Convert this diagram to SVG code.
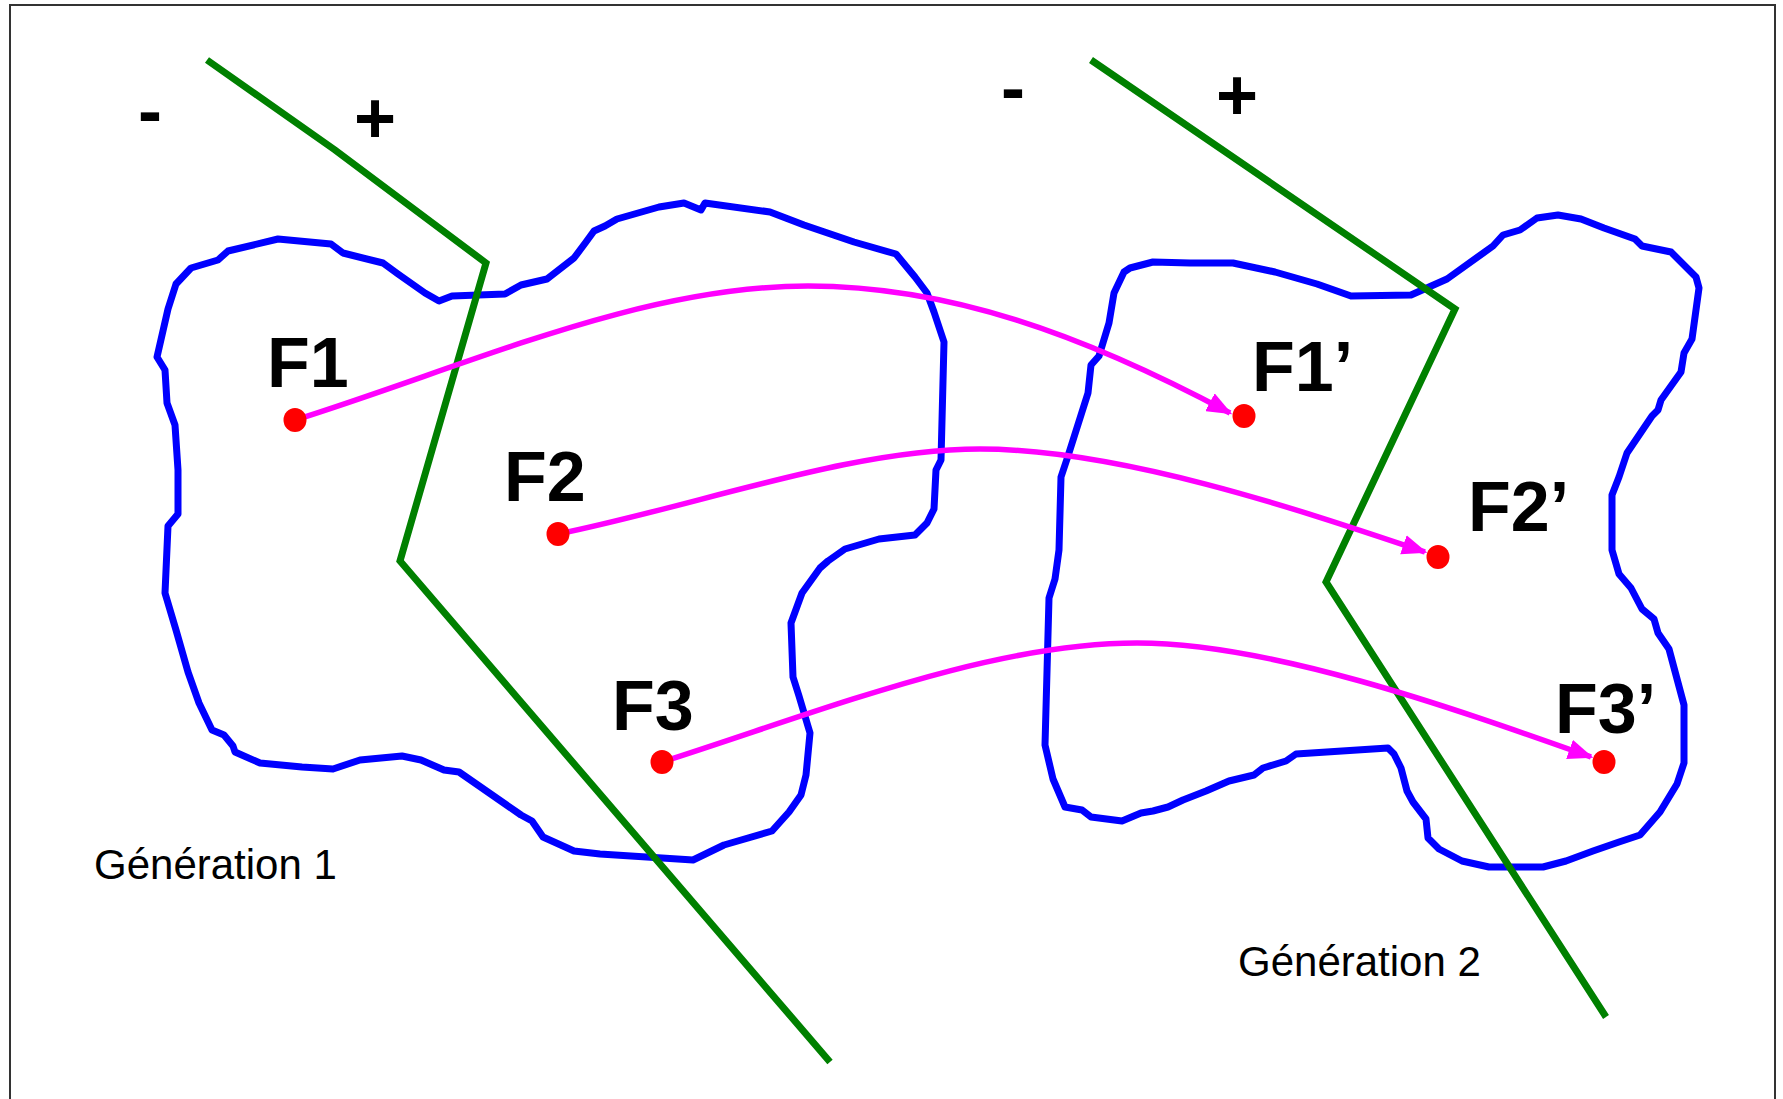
<svg xmlns="http://www.w3.org/2000/svg" width="1783" height="1099" viewBox="0 0 1783 1099">
<defs>
<style>
.blob{fill:none;stroke:#0000FF;stroke-width:7;stroke-linejoin:round;stroke-linecap:round}
.axis{fill:none;stroke:#008000;stroke-width:7;stroke-linejoin:miter}
.arrow{fill:none;stroke:#FF00FF;stroke-width:5.5;marker-end:url(#ah)}
.dot{fill:#FF0000}
.lbl{font-family:"Liberation Sans",Arial,sans-serif;font-weight:bold;font-size:70px;fill:#000}
.sign{font-family:"Liberation Sans",Arial,sans-serif;font-weight:bold;font-size:72px;fill:#000;text-anchor:middle}
.gen{font-family:"Liberation Sans",Arial,sans-serif;font-size:42px;fill:#000}
</style>
<marker id="ah" viewBox="0 0 10 8" markerWidth="4.6" markerHeight="3.7" refX="9" refY="4" orient="auto" markerUnits="strokeWidth">
<path d="M0,0 L10,4 L0,8 Z" fill="#FF00FF"/>
</marker>
</defs>
<rect x="0" y="0" width="1783" height="1099" fill="#fff"/>
<rect x="10" y="5" width="1765" height="1110" fill="none" stroke="#333" stroke-width="2"/>

<g id="generation1">
<path class="blob" d="M157,357 L168,309 L176,284 L191,268 L218,260 L228,251 L278,239 L331,244 L343,253 L383,263 L398,274 L425,293 L439,301 L452,296 L505,294 L521,285 L547,279 L574,258 L586,242 L594,231 L605,226 L617,219 L659,207 L684,203 L701,210 L705,203 L770,212 L804,225 L854,242 L896,254 L915,277 L927,293 L934,312 L944,342 L941,460 L936,470 L934,509 L927,523 L915,535 L879,539 L845,549 L828,561 L820,568 L802,593 L791,623 L793,677 L799,696 L810,733 L806,775 L801,795 L789,812 L772,831 L724,845 L693,860 L600,854 L574,851 L543,837 L532,821 L521,815 L459,772 L444,770 L421,760 L402,756 L360,760 L333,769 L302,767 L260,763 L235,752 L233,746 L224,735 L212,730 L199,703 L188,672 L176,630 L165,593 L168,526 L178,514 L178,470 L175,425 L167,403 L165,370 Z"/>
<polyline class="axis" points="207,60 335,150 486,263 400,561 830,1062"/>
<text class="sign" x="150" y="135">-</text>
<text class="sign" x="375" y="143">+</text>
<text class="gen" x="94" y="879">Génération 1</text>
</g>

<g id="generation2">
<path class="blob" d="M1124,272 L1130,268 L1153,262 L1190,263 L1233,263 L1275,272 L1317,284 L1351,296 L1411,295 L1447,279 L1493,246 L1503,235 L1520,230 L1537,218 L1558,215 L1581,219 L1604,228 L1635,239 L1642,246 L1671,252 L1696,277 L1699,288 L1692,339 L1684,353 L1681,372 L1661,400 L1658,410 L1652,416 L1627,453 L1619,477 L1612,495 L1612,550 L1619,574 L1631,588 L1642,609 L1654,619 L1658,633 L1669,649 L1684,705 L1684,763 L1677,784 L1660,812 L1640,835 L1619,842 L1593,851 L1566,861 L1543,867 L1489,867 L1462,861 L1439,849 L1428,838 L1426,819 L1413,802 L1407,791 L1401,768 L1394,754 L1388,748 L1296,754 L1286,761 L1263,768 L1254,775 L1229,781 L1206,791 L1183,800 L1168,807 L1153,811 L1141,813 L1122,821 L1091,817 L1082,810 L1065,807 L1053,779 L1045,745 L1049,598 L1055,579 L1059,550 L1061,477 L1068,456 L1088,393 L1091,365 L1099,356 L1109,323 L1114,293 Z"/>
<polyline class="axis" points="1091,60 1455,309 1326,582 1606,1017"/>
<text class="sign" x="1013" y="112">-</text>
<text class="sign" x="1237" y="120">+</text>
<text class="gen" x="1238" y="976">Génération 2</text>
</g>

<g id="connectors">
<path class="arrow" d="M295,420 C470,365 640,286 808,286 C948,286 1082,334 1230,413"/>
<path class="arrow" d="M558,534 C700,505 850,449 980,449 C1120,449 1300,510 1425,552"/>
<path class="arrow" d="M662,762 C822,711 990,643 1137,643 C1270,643 1450,707 1591,757"/>
</g>

<g id="F1"><ellipse class="dot" cx="295" cy="420" rx="11.5" ry="12"/><text class="lbl" x="267" y="387">F1</text></g>
<g id="F2"><ellipse class="dot" cx="558" cy="534" rx="11.5" ry="12"/><text class="lbl" x="504" y="501">F2</text></g>
<g id="F3"><ellipse class="dot" cx="662" cy="762" rx="11.5" ry="12"/><text class="lbl" x="612" y="730">F3</text></g>
<g id="F1p"><ellipse class="dot" cx="1244" cy="416" rx="11.5" ry="12"/><text class="lbl" x="1252" y="391">F1’</text></g>
<g id="F2p"><ellipse class="dot" cx="1438" cy="557" rx="11.5" ry="12"/><text class="lbl" x="1468" y="531">F2’</text></g>
<g id="F3p"><ellipse class="dot" cx="1604" cy="762" rx="11.5" ry="12"/><text class="lbl" x="1555" y="733">F3’</text></g>
</svg>
